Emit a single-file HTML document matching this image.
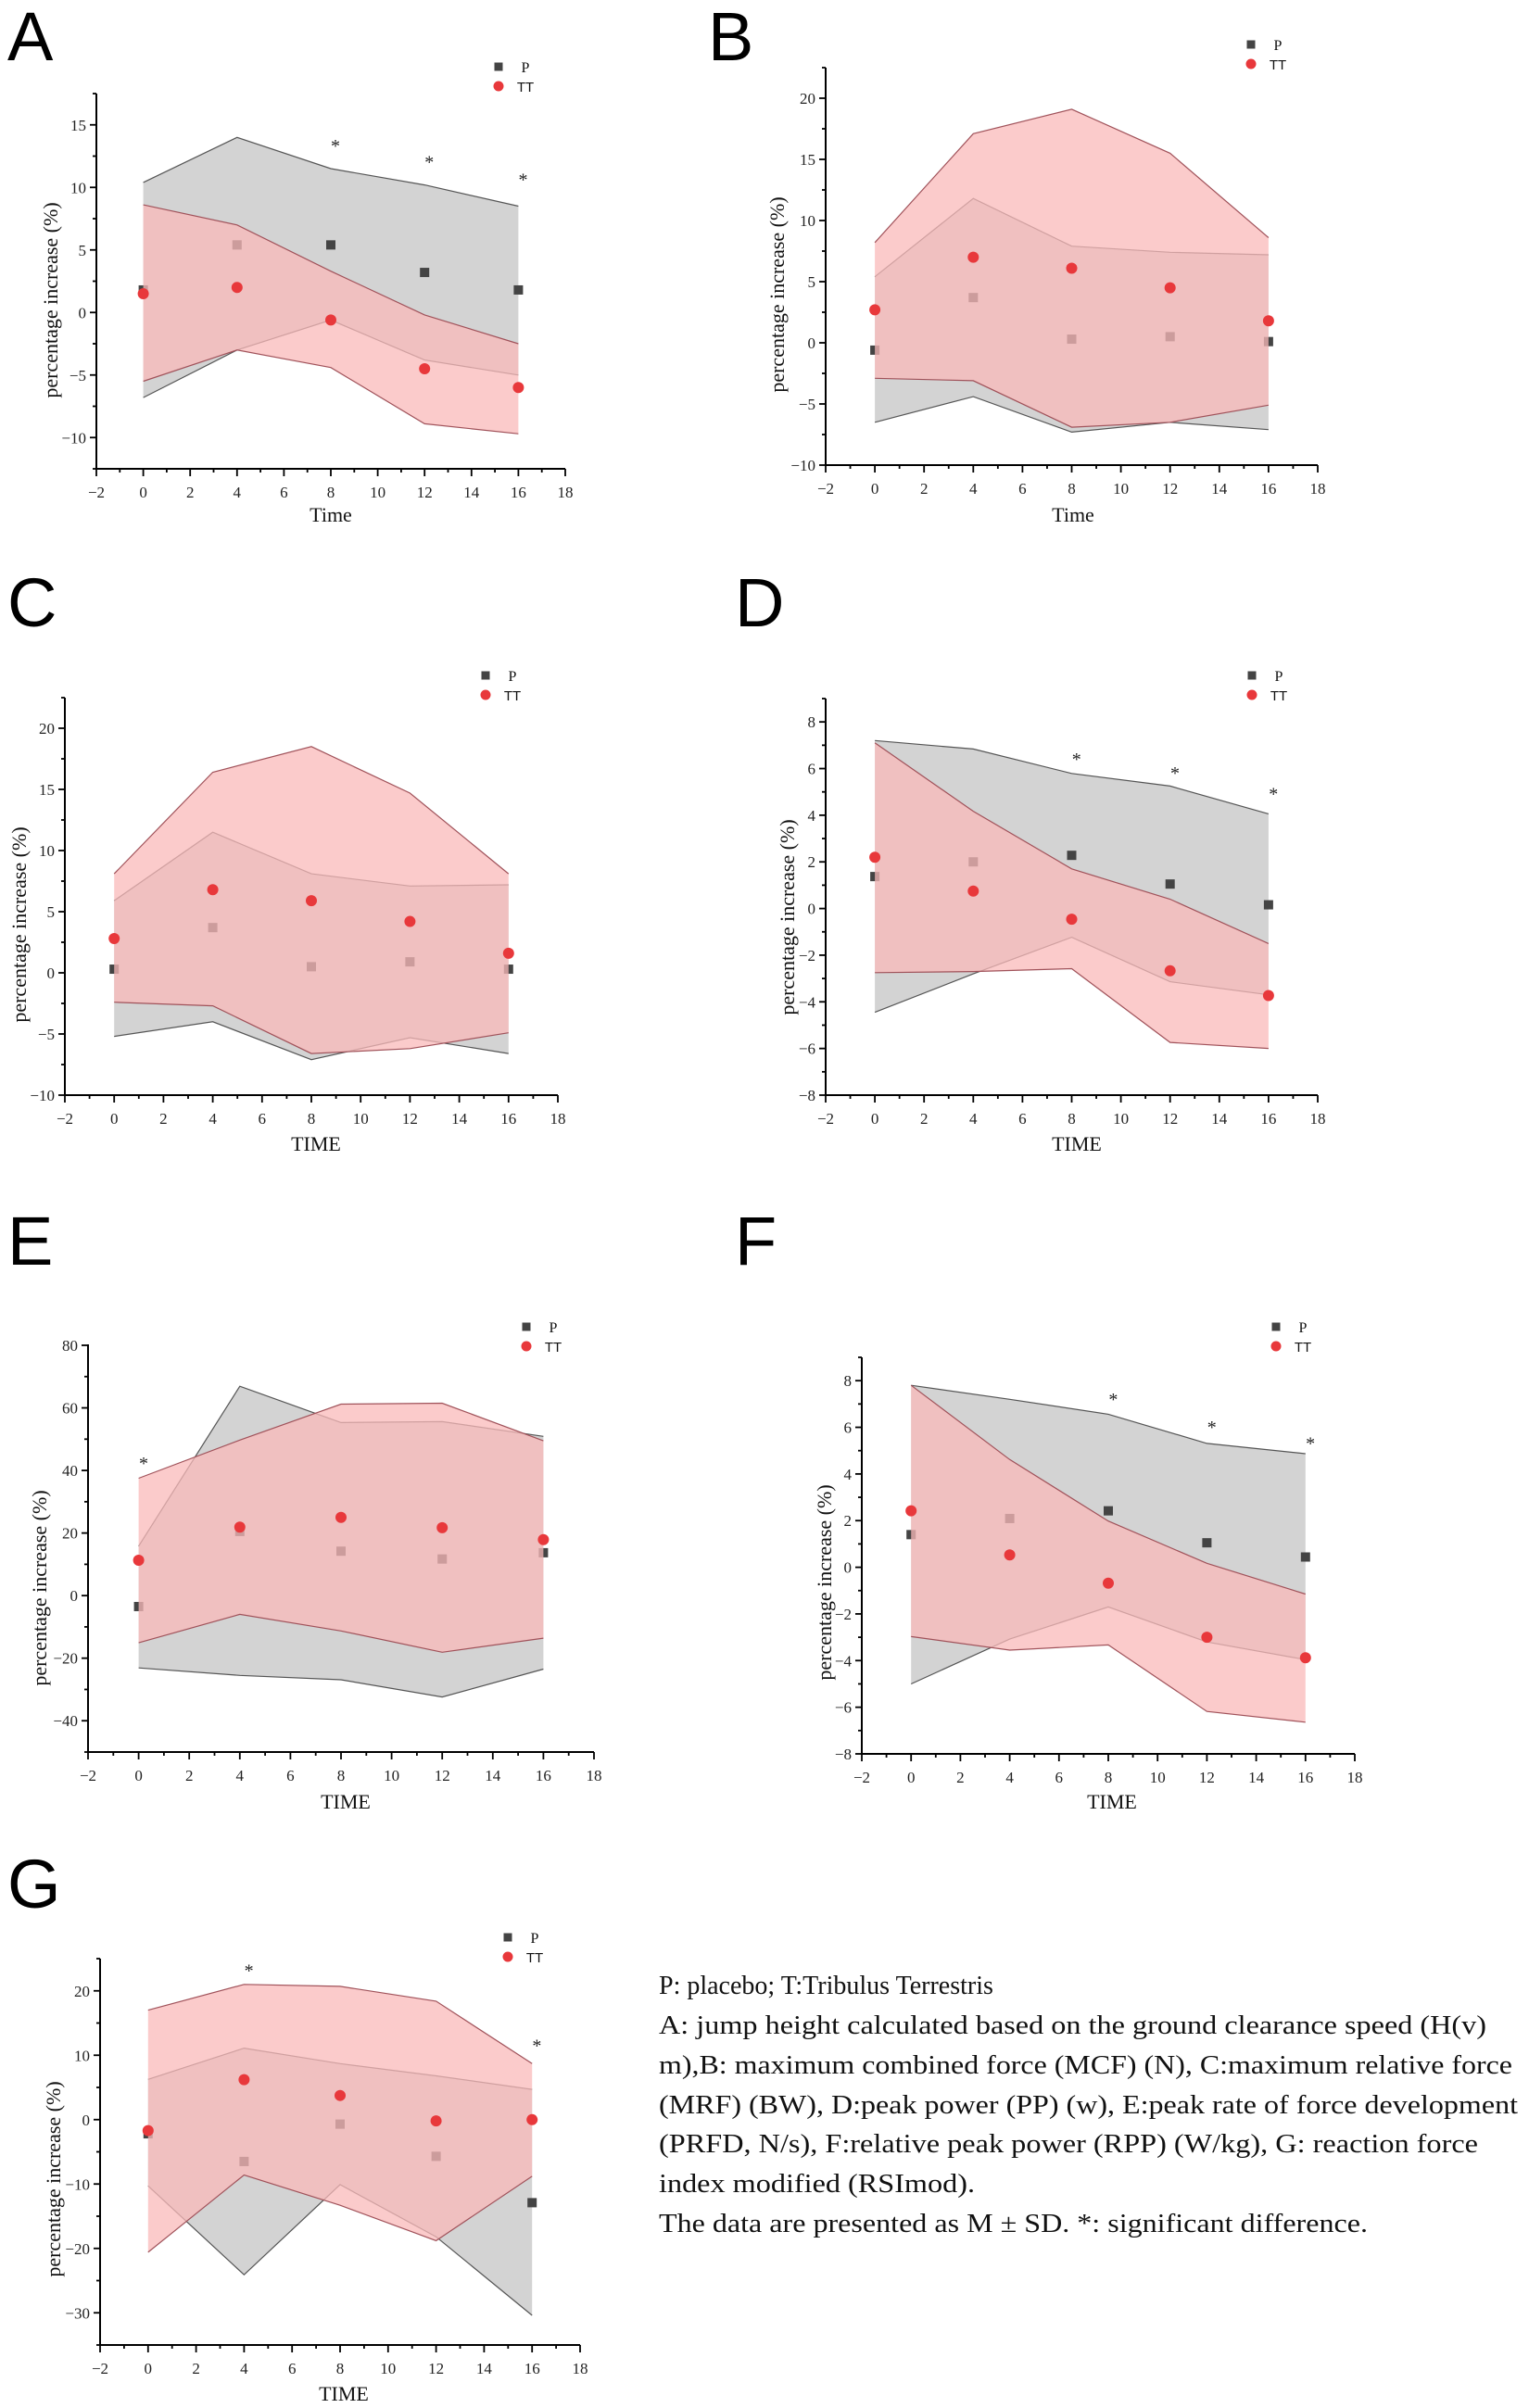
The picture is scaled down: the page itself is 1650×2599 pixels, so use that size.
<!DOCTYPE html>
<html><head><meta charset="utf-8">
<style>
html,body{margin:0;padding:0;background:#fff;}
svg{display:block;}
.tick{font-family:"Liberation Serif",serif;font-size:17px;fill:#222;}
.title{font-family:"Liberation Serif",serif;font-size:22px;fill:#111;}
.leg{font-family:"Liberation Serif",serif;font-size:16px;fill:#111;}
.legs{font-family:"Liberation Sans",sans-serif;font-size:15px;fill:#111;}
.letter{font-family:"Liberation Sans","DejaVu Sans",sans-serif;font-size:74px;fill:#000;}
.cap{font-family:"Liberation Serif",serif;font-size:28px;fill:#111;}
.star{font-family:"Liberation Serif",serif;font-size:20px;fill:#222;}
</style></head>
<body>
<svg id="fig" width="1650" height="2599" viewBox="0 0 1650 2599" xmlns="http://www.w3.org/2000/svg">
<g>
<text class="cap" x="711" y="2152">P: placebo; T:Tribulus Terrestris</text>
<text class="cap" x="711" y="2195" textLength="893" lengthAdjust="spacingAndGlyphs">A: jump height calculated based on the ground clearance speed (H(v)</text>
<text class="cap" x="711" y="2238" textLength="921" lengthAdjust="spacingAndGlyphs">m),B: maximum combined force (MCF) (N), C:maximum relative force</text>
<text class="cap" x="711" y="2281" textLength="927" lengthAdjust="spacingAndGlyphs">(MRF) (BW), D:peak power (PP) (w), E:peak rate of force development</text>
<text class="cap" x="711" y="2323" textLength="884" lengthAdjust="spacingAndGlyphs">(PRFD, N/s), F:relative peak power (RPP) (W/kg), G: reaction force</text>
<text class="cap" x="711" y="2366" textLength="341" lengthAdjust="spacingAndGlyphs">index modified (RSImod).</text>
<text class="cap" x="711" y="2409" textLength="765" lengthAdjust="spacingAndGlyphs">The data are presented as M ± SD. *: significant difference.</text>
</g>
</svg>
<script>
const timePoints = [0, 4, 8, 12, 16];
const xTickLabels = [-2, 0, 2, 4, 6, 8, 10, 12, 14, 16, 18];

const aPMean = [1.8, 5.4, 5.4, 3.2, 1.8];
const aPUpper = [10.4, 14.0, 11.5, 10.2, 8.5];
const aPLower = [-6.8, -3.0, -0.6, -3.8, -5.0];
const aTTMean = [1.5, 2.0, -0.6, -4.5, -6.0];
const aTTUpper = [8.6, 7.0, 3.3, -0.2, -2.5];
const aTTLower = [-5.5, -3.0, -4.4, -8.9, -9.7];
const aStarTimes = [8, 12, 16];
const aStarVals = [13.5, 12.2, 10.8];
const aYTicks = [-10, -5, 0, 5, 10, 15];

const bPMean = [-0.6, 3.7, 0.3, 0.5, 0.1];
const bPUpper = [5.4, 11.8, 7.9, 7.4, 7.2];
const bPLower = [-6.5, -4.4, -7.3, -6.5, -7.1];
const bTTMean = [2.7, 7.0, 6.1, 4.5, 1.8];
const bTTUpper = [8.2, 17.1, 19.1, 15.5, 8.6];
const bTTLower = [-2.9, -3.1, -6.9, -6.5, -5.1];
const bStarTimes = [];
const bStarVals = [];
const bYTicks = [-10, -5, 0, 5, 10, 15, 20];

const cPMean = [0.3, 3.7, 0.5, 0.9, 0.3];
const cPUpper = [5.9, 11.5, 8.1, 7.1, 7.2];
const cPLower = [-5.2, -4.0, -7.1, -5.3, -6.6];
const cTTMean = [2.8, 6.8, 5.9, 4.2, 1.6];
const cTTUpper = [8.1, 16.4, 18.5, 14.7, 8.1];
const cTTLower = [-2.4, -2.7, -6.6, -6.2, -4.9];
const cStarTimes = [];
const cStarVals = [];
const cYTicks = [-10, -5, 0, 5, 10, 15, 20];

const dPMean = [1.37, 2.0, 2.28, 1.05, 0.16];
const dPUpper = [7.2, 6.84, 5.79, 5.25, 4.06];
const dPLower = [-4.45, -2.8, -1.23, -3.14, -3.7];
const dTTMean = [2.2, 0.75, -0.46, -2.67, -3.73];
const dTTUpper = [7.1, 4.17, 1.7, 0.4, -1.5];
const dTTLower = [-2.75, -2.7, -2.58, -5.74, -6.0];
const dStarTimes = [8, 12, 16];
const dStarVals = [6.5, 5.9, 5.0];
const dYTicks = [-8, -6, -4, -2, 0, 2, 4, 6, 8];

const ePMean = [-3.5, 20.5, 14.2, 11.7, 13.7];
const ePUpper = [15.8, 66.9, 55.3, 55.6, 50.9];
const ePLower = [-23.1, -25.5, -26.9, -32.4, -23.5];
const eTTMean = [11.3, 21.9, 25.0, 21.7, 17.9];
const eTTUpper = [37.5, 49.7, 61.2, 61.5, 49.5];
const eTTLower = [-15.1, -6.0, -11.3, -18.1, -13.6];
const eStarTimes = [0];
const eStarVals = [43];
const eYTicks = [-40, -20, 0, 20, 40, 60, 80];

const fPMean = [1.4, 2.09, 2.42, 1.05, 0.44];
const fPUpper = [7.8, 7.2, 6.56, 5.31, 4.87];
const fPLower = [-5.0, -3.08, -1.7, -3.2, -3.96];
const fTTMean = [2.42, 0.53, -0.68, -3.0, -3.88];
const fTTUpper = [7.8, 4.62, 1.98, 0.17, -1.15];
const fTTLower = [-2.97, -3.55, -3.33, -6.18, -6.64];
const fStarTimes = [8, 12, 16];
const fStarVals = [7.3, 6.1, 5.4];
const fYTicks = [-8, -6, -4, -2, 0, 2, 4, 6, 8];

const gPMean = [-2.2, -6.5, -0.7, -5.7, -12.9];
const gPUpper = [6.25, 11.1, 8.7, 6.8, 4.7];
const gPLower = [-10.3, -24.1, -10.1, -18.2, -30.4];
const gTTMean = [-1.7, 6.2, 3.75, -0.2, 0.0];
const gTTUpper = [17.0, 21.0, 20.7, 18.4, 8.7];
const gTTLower = [-20.6, -8.6, -13.3, -18.8, -8.8];
const gStarTimes = [4, 16];
const gStarVals = [23.5, 11.8];
const gYTicks = [-30, -20, -10, 0, 10, 20];

const NS = 'http://www.w3.org/2000/svg';
const svg = document.getElementById('fig');
function mk(tag, attrs, parent, txt) {
  const e = document.createElementNS(NS, tag);
  for (const k in attrs) e.setAttribute(k, attrs[k]);
  if (txt !== undefined) e.textContent = txt;
  parent.appendChild(e);
  return e;
}
function fmt(v) { return v < 0 ? '\u2212' + Math.abs(v) : String(v); }

function drawPanel(L, D) {
  const g = mk('g', {}, svg);
  
  
  const sx = v => L.x0 + (v + 2) / 20 * (L.x1 - L.x0);
  const sy = v => L.yb - (v - L.ymin) / (L.ymax - L.ymin) * (L.yb - L.yt);

  const letter = mk('text', {x: L.lx, y: L.ly, class: 'letter'}, g, L.id.toUpperCase());
  
  

  const pts = (xs, ys) => xs.map((t, i) => sx(t).toFixed(1) + ',' + sy(ys[i]).toFixed(1));
  const band = (up, lo) => pts(timePoints, up).concat(pts(timePoints, lo).reverse()).join(' ');

  const gb = mk('polygon', {points: band(D.pU, D.pL), fill: '#d3d3d3', stroke: 'none'}, g);
  
  
  mk('polyline', {points: pts(timePoints, D.pU).join(' '), fill: 'none', stroke: '#555', 'stroke-width': 1.2}, g);
  mk('polyline', {points: pts(timePoints, D.pL).join(' '), fill: 'none', stroke: '#555', 'stroke-width': 1.2}, g);

  D.pM.forEach((v, i) => {
    const r = mk('rect', {x: sx(timePoints[i]) - 5, y: sy(v) - 5, width: 10, height: 10, fill: '#444'}, g);
    
    
  });

  const pb = mk('polygon', {points: band(D.tU, D.tL), fill: 'rgb(250,186,186)', 'fill-opacity': 0.75, stroke: 'none'}, g);
  
  
  mk('polyline', {points: pts(timePoints, D.tU).join(' '), fill: 'none', stroke: '#a0525a', 'stroke-width': 1.2}, g);
  mk('polyline', {points: pts(timePoints, D.tL).join(' '), fill: 'none', stroke: '#a0525a', 'stroke-width': 1.2}, g);

  D.tM.forEach((v, i) => {
    const c = mk('circle', {cx: sx(timePoints[i]), cy: sy(v), r: 6, fill: '#e8383b'}, g);
    
    
  });

  D.sT.forEach((t, i) => {
    const s = mk('text', {x: sx(t + 0.2), y: sy(D.sV[i]) + 9, class: 'star', 'text-anchor': 'middle'}, g, '*');
    
    
  });

  const ax = mk('g', {}, g);
  
  
  mk('line', {x1: L.x0, y1: L.yt, x2: L.x0, y2: L.yb + 1, stroke: '#000', 'stroke-width': 2}, ax);
  mk('line', {x1: L.x0 - 1, y1: L.yb, x2: L.x1, y2: L.yb, stroke: '#000', 'stroke-width': 2}, ax);
  for (let v = -2; v <= 18; v++) {
    const major = v % 2 === 0;
    mk('line', {x1: sx(v), y1: L.yb, x2: sx(v), y2: L.yb + (major ? 8 : 4), stroke: '#000', 'stroke-width': 1.8}, ax);
  }
  xTickLabels.forEach(v => {
    const t = mk('text', {x: sx(v), y: L.yb + 31, class: 'tick', 'text-anchor': 'middle'}, ax, fmt(v));
    
    
  });
  const step = D.yt[1] - D.yt[0];
  for (let v = D.yt[0] - step; v <= L.ymax + 1e-9; v += step / 2) {
    if (v < L.ymin - 1e-9) continue;
    const major = Math.abs(((v - D.yt[0]) / step) % 1) < 1e-6;
    mk('line', {x1: L.x0 - (major ? 7 : 4), y1: sy(v), x2: L.x0, y2: sy(v), stroke: '#000', 'stroke-width': 1.8}, ax);
  }
  D.yt.forEach(v => {
    const t = mk('text', {x: L.x0 - 11, y: sy(v) + 6, class: 'tick', 'text-anchor': 'end'}, ax, fmt(v));
    
    
  });
  const xt = mk('text', {x: L.xtx, y: L.xty, class: 'title', 'text-anchor': 'middle'}, g, L.xlabel);
  
  
  const yt = mk('text', {x: 0, y: 0, class: 'title', 'text-anchor': 'middle', transform: 'translate(' + (L.ytx + 8) + ',' + L.yty + ') rotate(-90)'}, g, 'percentage increase (%)');
  
  

  const lg = mk('g', {}, g);
  
  
  mk('rect', {x: L.legx - 4.5, y: L.legy - 4.5, width: 9, height: 9, fill: '#444'}, lg);
  mk('text', {x: L.legx + 29, y: L.legy + 6, class: 'leg', 'text-anchor': 'middle'}, lg, 'P');
  mk('circle', {cx: L.legx, cy: L.legy + 21, r: 5.5, fill: '#e8383b'}, lg);
  mk('text', {x: L.legx + 29, y: L.legy + 27, class: 'legs', 'text-anchor': 'middle'}, lg, 'TT');
}

drawPanel({id: 'a', x0: 104, x1: 610, yt: 101, yb: 506, ymin: -12.5, ymax: 17.5, lx: 8, ly: 65,
  xtx: 357, xty: 563, xlabel: 'Time', ytx: 54, yty: 324, legx: 538, legy: 72},
  {pM: aPMean, pU: aPUpper, pL: aPLower, tM: aTTMean, tU: aTTUpper, tL: aTTLower, sT: aStarTimes, sV: aStarVals, yt: aYTicks});
drawPanel({id: 'b', x0: 891, x1: 1422, yt: 73, yb: 502, ymin: -10, ymax: 22.5, lx: 764, ly: 65,
  xtx: 1158, xty: 563, xlabel: 'Time', ytx: 838, yty: 318, legx: 1350, legy: 48},
  {pM: bPMean, pU: bPUpper, pL: bPLower, tM: bTTMean, tU: bTTUpper, tL: bTTLower, sT: bStarTimes, sV: bStarVals, yt: bYTicks});
drawPanel({id: 'c', x0: 70, x1: 602, yt: 753, yb: 1182, ymin: -10, ymax: 22.5, lx: 8, ly: 676,
  xtx: 341, xty: 1242, xlabel: 'TIME', ytx: 20, yty: 998, legx: 524, legy: 729},
  {pM: cPMean, pU: cPUpper, pL: cPLower, tM: cTTMean, tU: cTTUpper, tL: cTTLower, sT: cStarTimes, sV: cStarVals, yt: cYTicks});
drawPanel({id: 'd', x0: 891, x1: 1422, yt: 754, yb: 1182, ymin: -8, ymax: 9, lx: 793, ly: 676,
  xtx: 1162, xty: 1242, xlabel: 'TIME', ytx: 849, yty: 990, legx: 1351, legy: 729},
  {pM: dPMean, pU: dPUpper, pL: dPLower, tM: dTTMean, tU: dTTUpper, tL: dTTLower, sT: dStarTimes, sV: dStarVals, yt: dYTicks});
drawPanel({id: 'e', x0: 95, x1: 641, yt: 1451, yb: 1891, ymin: -50, ymax: 80.3, lx: 8, ly: 1365,
  xtx: 373, xty: 1952, xlabel: 'TIME', ytx: 42, yty: 1714, legx: 568, legy: 1432},
  {pM: ePMean, pU: ePUpper, pL: ePLower, tM: eTTMean, tU: eTTUpper, tL: eTTLower, sT: eStarTimes, sV: eStarVals, yt: eYTicks});
drawPanel({id: 'f', x0: 930, x1: 1462, yt: 1465, yb: 1893, ymin: -8, ymax: 9, lx: 793, ly: 1365,
  xtx: 1200, xty: 1952, xlabel: 'TIME', ytx: 889, yty: 1708, legx: 1377, legy: 1432},
  {pM: fPMean, pU: fPUpper, pL: fPLower, tM: fTTMean, tU: fTTUpper, tL: fTTLower, sT: fStarTimes, sV: fStarVals, yt: fYTicks});
drawPanel({id: 'g', x0: 108, x1: 626, yt: 2114, yb: 2531, ymin: -35, ymax: 25, lx: 8, ly: 2059,
  xtx: 371, xty: 2591, xlabel: 'TIME', ytx: 57, yty: 2352, legx: 548, legy: 2091},
  {pM: gPMean, pU: gPUpper, pL: gPLower, tM: gTTMean, tU: gTTUpper, tL: gTTLower, sT: gStarTimes, sV: gStarVals, yt: gYTicks});
</script>
</body></html>
